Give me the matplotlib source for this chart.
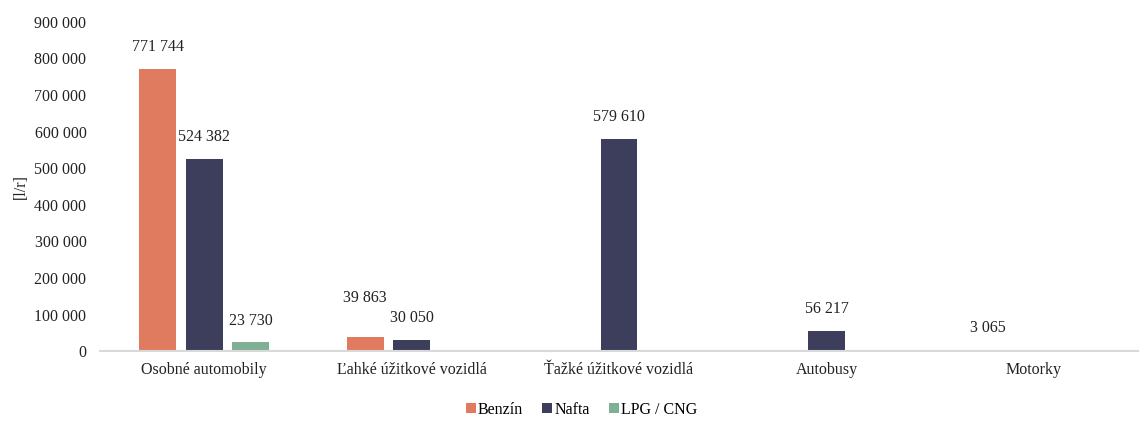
import numpy as np
import matplotlib.pyplot as plt
from matplotlib.ticker import FuncFormatter

plt.rcParams['font.family'] = ['Liberation Serif', 'DejaVu Serif']

kategorie = ["Osobné automobily", "Ľahké úžitkové vozidlá", "Ťažké úžitkové vozidlá", "Autobusy", "Motorky"]
benzin = [771744, 39863, np.nan, np.nan, 3065]
nafta = [524382, 30050, 579610, 56217, np.nan]
lpg_cng = [23730, np.nan, np.nan, np.nan, np.nan]

serie = [("Benzín", benzin, "#E07B5F"),
         ("Nafta", nafta, "#3C3E5C"),
         ("LPG / CNG", lpg_cng, "#7FB096")]

def fmt(v, pos=None):
    return "{:,.0f}".format(v).replace(",", " ")

fig = plt.figure(figsize=(11.4, 4.21), dpi=100)
ax = fig.add_axes([0.088, 0.166, 0.91, 0.782])

x = np.arange(len(kategorie))
sirka = 0.178
krok = 0.224
for i, (nazov, hodnoty, farba) in enumerate(serie):
    pos = x + (i - 1) * krok
    ax.bar(pos, hodnoty, width=sirka, color=farba, label=nazov)
    for j, (p, v) in enumerate(zip(pos, hodnoty)):
        if np.isnan(v):
            continue
        # popisok posunuty vyssie, ak by sa prekryval so susednym
        posun = 10
        if i == 0 and not np.isnan(nafta[j]) and v - nafta[j] < 30000:
            posun = 22
        ax.annotate(fmt(v), (p, v), xytext=(0, posun), textcoords="offset points",
                    ha="center", va="bottom", fontsize=11.5, color="#222222")

ax.set_xlim(-0.5, len(kategorie) - 0.5)
ax.set_ylim(0, 900000)
ax.set_yticks(np.arange(0, 900001, 100000))
ax.yaxis.set_major_formatter(FuncFormatter(fmt))
ax.set_xticks(x)
ax.set_xticklabels(kategorie)
ax.tick_params(axis="both", length=0, labelsize=11.5, colors="#222222")
ax.tick_params(axis="x", pad=8)
ax.tick_params(axis="y", pad=10)
for s in ["top", "right", "left"]:
    ax.spines[s].set_visible(False)
ax.spines["bottom"].set_color("#D9D9D9")
ax.spines["bottom"].set_linewidth(1.5)
ax.set_ylabel("[l/r]", fontsize=11.5, color="#222222", labelpad=4)

ax.legend(loc="upper center", bbox_to_anchor=(0.464, -0.11), ncol=3, frameon=False,
          fontsize=11.5, handlelength=0.6, handleheight=0.6, handletextpad=0.15, columnspacing=1.2)

fig.savefig("out.png", dpi=100)
